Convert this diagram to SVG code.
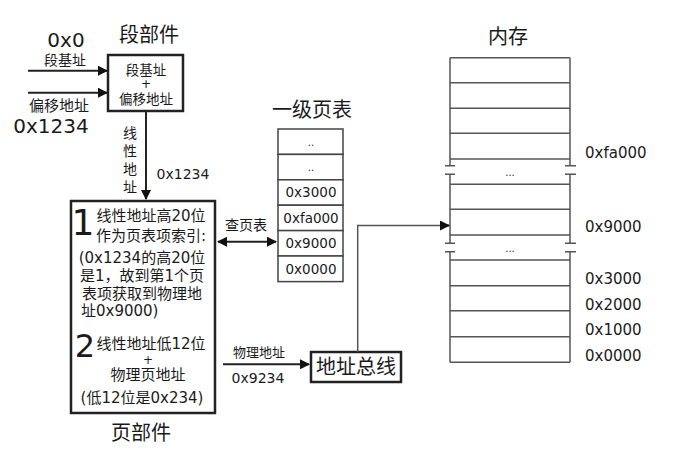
<svg xmlns="http://www.w3.org/2000/svg" width="691" height="460" viewBox="0 0 691 460">
<defs>
<marker id="ah" viewBox="0 0 10 10" refX="9" refY="5" markerWidth="10" markerHeight="10" markerUnits="userSpaceOnUse" orient="auto-start-reverse"><path d="M0,0 L10,5 L0,10 z" fill="#111"/></marker>
</defs>
<style>
text{font-family:"DejaVu Sans","Noto Sans CJK SC",sans-serif;fill:#1a1a1a;text-anchor:middle;dominant-baseline:central}
.t{font-size:20px}
.s{font-size:14px}
.m{font-size:15px}
.big{font-size:32px}
.st{text-anchor:start}
.box{fill:#fff;stroke:#222;stroke-width:2.5}
.cell{fill:#fff;stroke:#444;stroke-width:1.5}
.ln{stroke:#222;stroke-width:2;fill:none}
.mem{stroke:#555;stroke-width:1.5;fill:none}
</style>
<rect width="691" height="460" fill="#fff"/>

<g id="titles">
<text class="t" x="149" y="35">段部件</text>
<text class="t" x="508" y="37">内存</text>
<text class="t" x="312" y="110">一级页表</text>
<text class="t" x="141" y="433">页部件</text>
</g>

<g id="inputs">
<text class="t" x="66" y="40">0x0</text>
<text class="s" x="65" y="60">段基址</text>
<text class="m" x="59" y="106">偏移地址</text>
<text class="t" x="51" y="126">0x1234</text>
</g>

<g id="seg">
<rect class="box" x="108" y="55" width="75" height="56"/>
<text style="font-size:13.5px" x="146" y="69.5">段基址</text>
<text style="font-size:12px" x="146" y="84">+</text>
<text style="font-size:13.5px" x="146" y="98.5">偏移地址</text>
</g>

<g id="page">
<rect class="box" x="71" y="201" width="144" height="212"/>
<text style="font-size:36px" x="83" y="222">1</text>
<text class="m" x="151" y="216">线性地址高20位</text>
<text class="m" x="151" y="236">作为页表项索引:</text>
<text class="m" x="142" y="258">(0x1234的高20位</text>
<text class="m" x="142" y="276">是1，故到第1个页</text>
<text class="m" x="142" y="294">表项获取到物理地</text>
<text class="m st" x="81" y="311">址0x9000)</text>
<text class="big" x="85" y="346">2</text>
<text class="m" x="151" y="344">线性地址低12位</text>
<text style="font-size:12px" x="148" y="360">+</text>
<text class="m" x="148" y="375">物理页地址</text>
<text class="m" x="142" y="398">(低12位是0x234)</text>
</g>

<g id="pagetable">
<rect class="cell" x="278" y="129" width="65" height="25.4"/>
<rect class="cell" x="278" y="154.4" width="65" height="25.4"/>
<rect class="cell" x="278" y="179.8" width="65" height="25.4"/>
<rect class="cell" x="278" y="205.2" width="65" height="25.4"/>
<rect class="cell" x="278" y="230.6" width="65" height="25.4"/>
<rect class="cell" x="278" y="256" width="65" height="25.6"/>
<text style="font-size:10px" x="311" y="142">..</text>
<text style="font-size:10px" x="311" y="167">..</text>
<text style="font-size:13.5px" x="311" y="192">0x3000</text>
<text style="font-size:13.5px" x="311" y="218">0xfa000</text>
<text style="font-size:13.5px" x="311" y="243">0x9000</text>
<text style="font-size:13.5px" x="311" y="269">0x0000</text>
</g>

<g id="bus">
<rect class="box" x="311" y="352" width="90" height="30"/>
<text class="t" x="356" y="367">地址总线</text>
</g>

<g id="memory">
<path class="mem" d="M450,57.7 H570 M450,82.7 H570 M450,108.3 H570 M450,133.3 H570 M450,159 H570 M450,184.3 H570 M450,209.3 H570 M450,235 H570 M450,260 H570 M450,285.7 H570 M450,310.7 H570 M450,336.7 H570 M450,362.3 H570"/>
<path class="mem" d="M450,57.7 V165.7 M450,174.3 V243.3 M450,251.7 V362.3 M570,57.7 V165.7 M570,174.3 V243.3 M570,251.7 V362.3"/>
<path class="mem" d="M445,165.7 H455 M445,174.3 H455 M565,165.7 H576 M565,174.3 H576 M445,243.3 H455 M445,251.7 H455 M565,243.3 H576 M565,251.7 H576"/>
<text style="font-size:10px" x="510" y="172">...</text>
<text style="font-size:10px" x="510" y="248">...</text>
<text class="m st" x="585" y="153">0xfa000</text>
<text class="m st" x="585" y="227">0x9000</text>
<text class="m st" x="585" y="279">0x3000</text>
<text class="m st" x="585" y="305">0x2000</text>
<text class="m st" x="585" y="330">0x1000</text>
<text class="m st" x="585" y="356">0x0000</text>
</g>

<g id="connectors">
<line class="ln" x1="28" y1="70.7" x2="107" y2="70.7" marker-end="url(#ah)"/>
<line class="ln" x1="28" y1="92.7" x2="107" y2="92.7" marker-end="url(#ah)"/>
<line class="ln" x1="146" y1="111" x2="146" y2="199" marker-end="url(#ah)"/>
<text class="s" x="130" y="133">线</text>
<text class="s" x="130" y="151">性</text>
<text class="s" x="130" y="169">地</text>
<text class="s" x="130" y="187">址</text>
<text class="s" x="183" y="174">0x1234</text>
<line class="ln" x1="218" y1="241.7" x2="276" y2="241.7" marker-start="url(#ah)" marker-end="url(#ah)"/>
<text class="s" x="246" y="225">查页表</text>
<line class="ln" x1="223" y1="364.3" x2="309" y2="364.3" marker-end="url(#ah)"/>
<text style="font-size:13px" x="259" y="352.7">物理地址</text>
<text class="s" x="258" y="378">0x9234</text>
<path class="mem" d="M357.7,352 V225.5 H440"/>
<line class="ln" x1="440" y1="225.5" x2="449" y2="225.5" marker-end="url(#ah)"/>
</g>
</svg>
